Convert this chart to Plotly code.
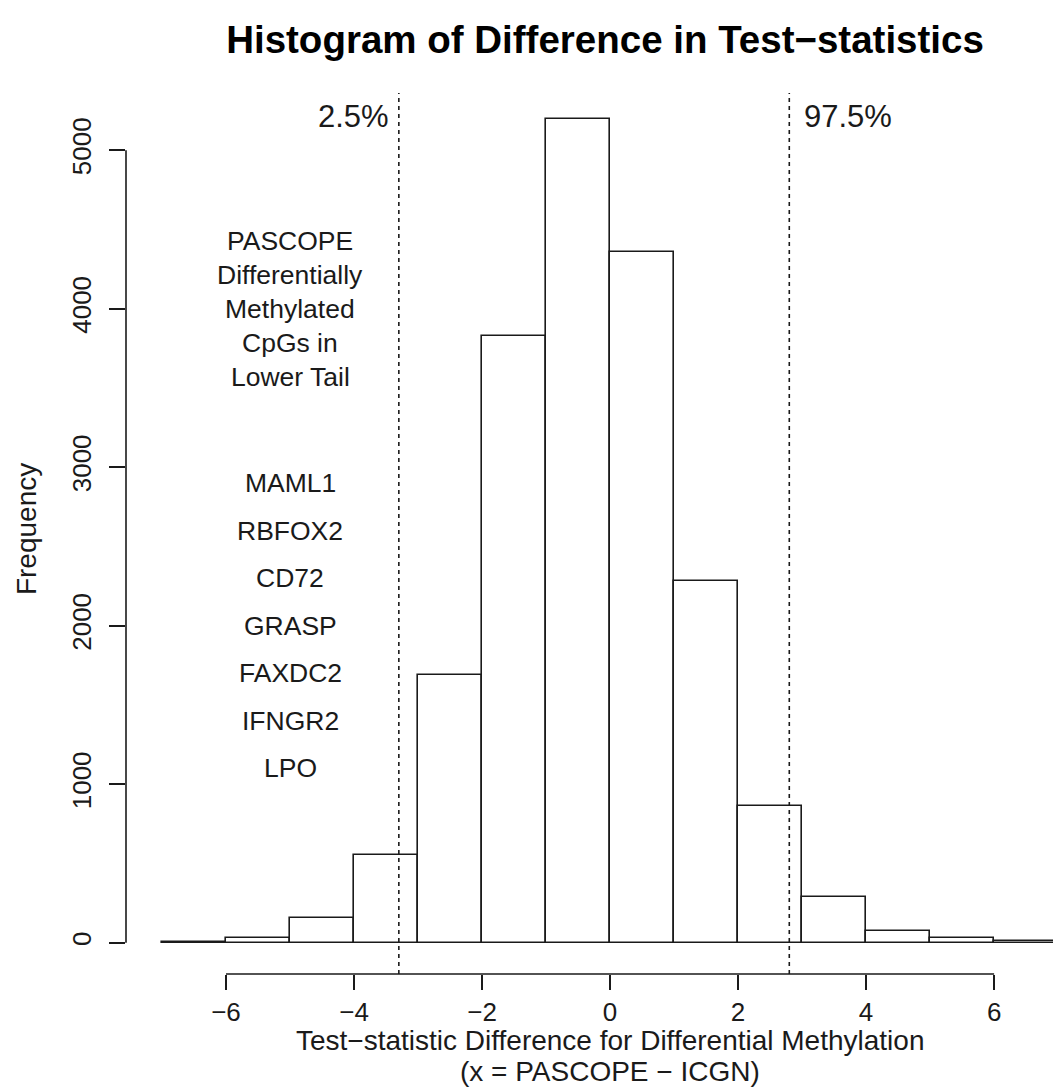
import plotly.graph_objects as go

# Histogram bins (left edges, width 1) and counts
bin_left = [-7, -6, -5, -4, -3, -2, -1, 0, 1, 2, 3, 4, 5, 6]
counts = [2, 27, 154, 555, 1689, 3828, 5197, 4358, 2282, 862, 290, 76, 28, 11]
bin_width = 1

# Quantile cut-offs of the difference distribution
q_low, q_high = -3.30, 2.80
q_labels = ["2.5%", "97.5%"]

# Annotation text
header_lines = ["PASCOPE", "Differentially", "Methylated", "CpGs in", "Lower Tail"]
header_y = [4430, 4215, 4000, 3785, 3570]
genes = ["MAML1", "RBFOX2", "CD72", "GRASP", "FAXDC2", "IFNGR2", "LPO"]
gene_y = [2900, 2600, 2300, 2000, 1700, 1400, 1100]
text_x = -5

x_ticks = [-6, -4, -2, 0, 2, 4, 6]
x_ticktext = ["\u22126", "\u22124", "\u22122", "0", "2", "4", "6"]
y_ticks = [0, 1000, 2000, 3000, 4000, 5000]

FONT = "Liberation Sans, Arial, Helvetica, sans-serif"
INK = "#1a1a1a"

fig = go.Figure()
fig.add_trace(go.Bar(
    x=[b + bin_width / 2 for b in bin_left],
    y=counts,
    width=bin_width,
    marker=dict(color="white", line=dict(color=INK, width=1.6)),
    showlegend=False,
    hoverinfo="skip",
))

shapes = []
# quantile lines
for q in (q_low, q_high):
    shapes.append(dict(type="line", xref="x", yref="paper", x0=q, x1=q, y0=0, y1=1,
                       line=dict(color=INK, width=1.6, dash="4px,4px")))
# R-style axis lines spanning first to last tick
shapes.append(dict(type="line", xref="x", yref="paper", x0=x_ticks[0], x1=x_ticks[-1], y0=0, y1=0,
                   line=dict(color=INK, width=1.6)))
shapes.append(dict(type="line", xref="paper", yref="y", x0=0, x1=0, y0=y_ticks[0], y1=y_ticks[-1],
                   line=dict(color=INK, width=1.6)))

annotations = []
annotations.append(dict(x=q_low, y=0.9728, xref="x", yref="paper", text=q_labels[0], showarrow=False,
                        xanchor="right", yanchor="middle", xshift=-8, font=dict(size=31, color=INK, family=FONT)))
annotations.append(dict(x=q_high, y=0.9728, xref="x", yref="paper", text=q_labels[1], showarrow=False,
                        xanchor="left", yanchor="middle", xshift=13, font=dict(size=31, color=INK, family=FONT)))
for t, yy in zip(header_lines, header_y):
    annotations.append(dict(x=text_x, y=yy, xref="x", yref="y", text=t, showarrow=False,
                            xanchor="center", yanchor="middle", font=dict(size=26.5, color=INK, family=FONT)))
for g, yy in zip(genes, gene_y):
    annotations.append(dict(x=text_x, y=yy, xref="x", yref="y", text=g, showarrow=False,
                            xanchor="center", yanchor="middle", font=dict(size=26.5, color=INK, family=FONT)))
# axis titles
annotations.append(dict(x=0, y=-0.0755, xref="x", yref="paper",
                        text="Test\u2212statistic Difference for Differential Methylation", showarrow=False,
                        xanchor="center", yanchor="middle", font=dict(size=28, color=INK, family=FONT)))
annotations.append(dict(x=0, y=-0.111, xref="x", yref="paper",
                        text="(x = PASCOPE \u2212 ICGN)", showarrow=False,
                        xanchor="center", yanchor="middle", font=dict(size=28, color=INK, family=FONT)))
annotations.append(dict(x=-0.1079, y=0.505, xref="paper", yref="paper", text="Frequency", textangle=-90,
                        showarrow=False, xanchor="center", yanchor="middle",
                        font=dict(size=28, color=INK, family=FONT)))

fig.update_layout(
    width=1053, height=1089,
    margin=dict(l=126, r=0, t=93, b=115),
    paper_bgcolor="white", plot_bgcolor="white",
    title=dict(text="<b>Histogram of Difference in Test\u2212statistics</b>",
               x=605 / 1053, xanchor="center", xref="container",
               y=1 - 40 / 1089, yanchor="middle", yref="container",
               font=dict(size=38.5, color="black", family=FONT)),
    xaxis=dict(range=[-7.5625, 6.92], showgrid=False, zeroline=False, showline=False,
               tickmode="array", tickvals=x_ticks, ticktext=x_ticktext,
               ticks="outside", ticklen=15, tickwidth=1.6, tickcolor=INK,
               tickfont=dict(size=26, color=INK, family=FONT)),
    yaxis=dict(range=[-197, 5361], showgrid=False, zeroline=False, showline=False,
               tickmode="array", tickvals=y_ticks, tickangle=-90,
               ticks="outside", ticklen=16, tickwidth=1.6, tickcolor=INK,
               ticklabelstandoff=8,
               tickfont=dict(size=26, color=INK, family=FONT)),
    shapes=shapes,
    annotations=annotations,
    bargap=0,
)

fig.write_html("out.html")
